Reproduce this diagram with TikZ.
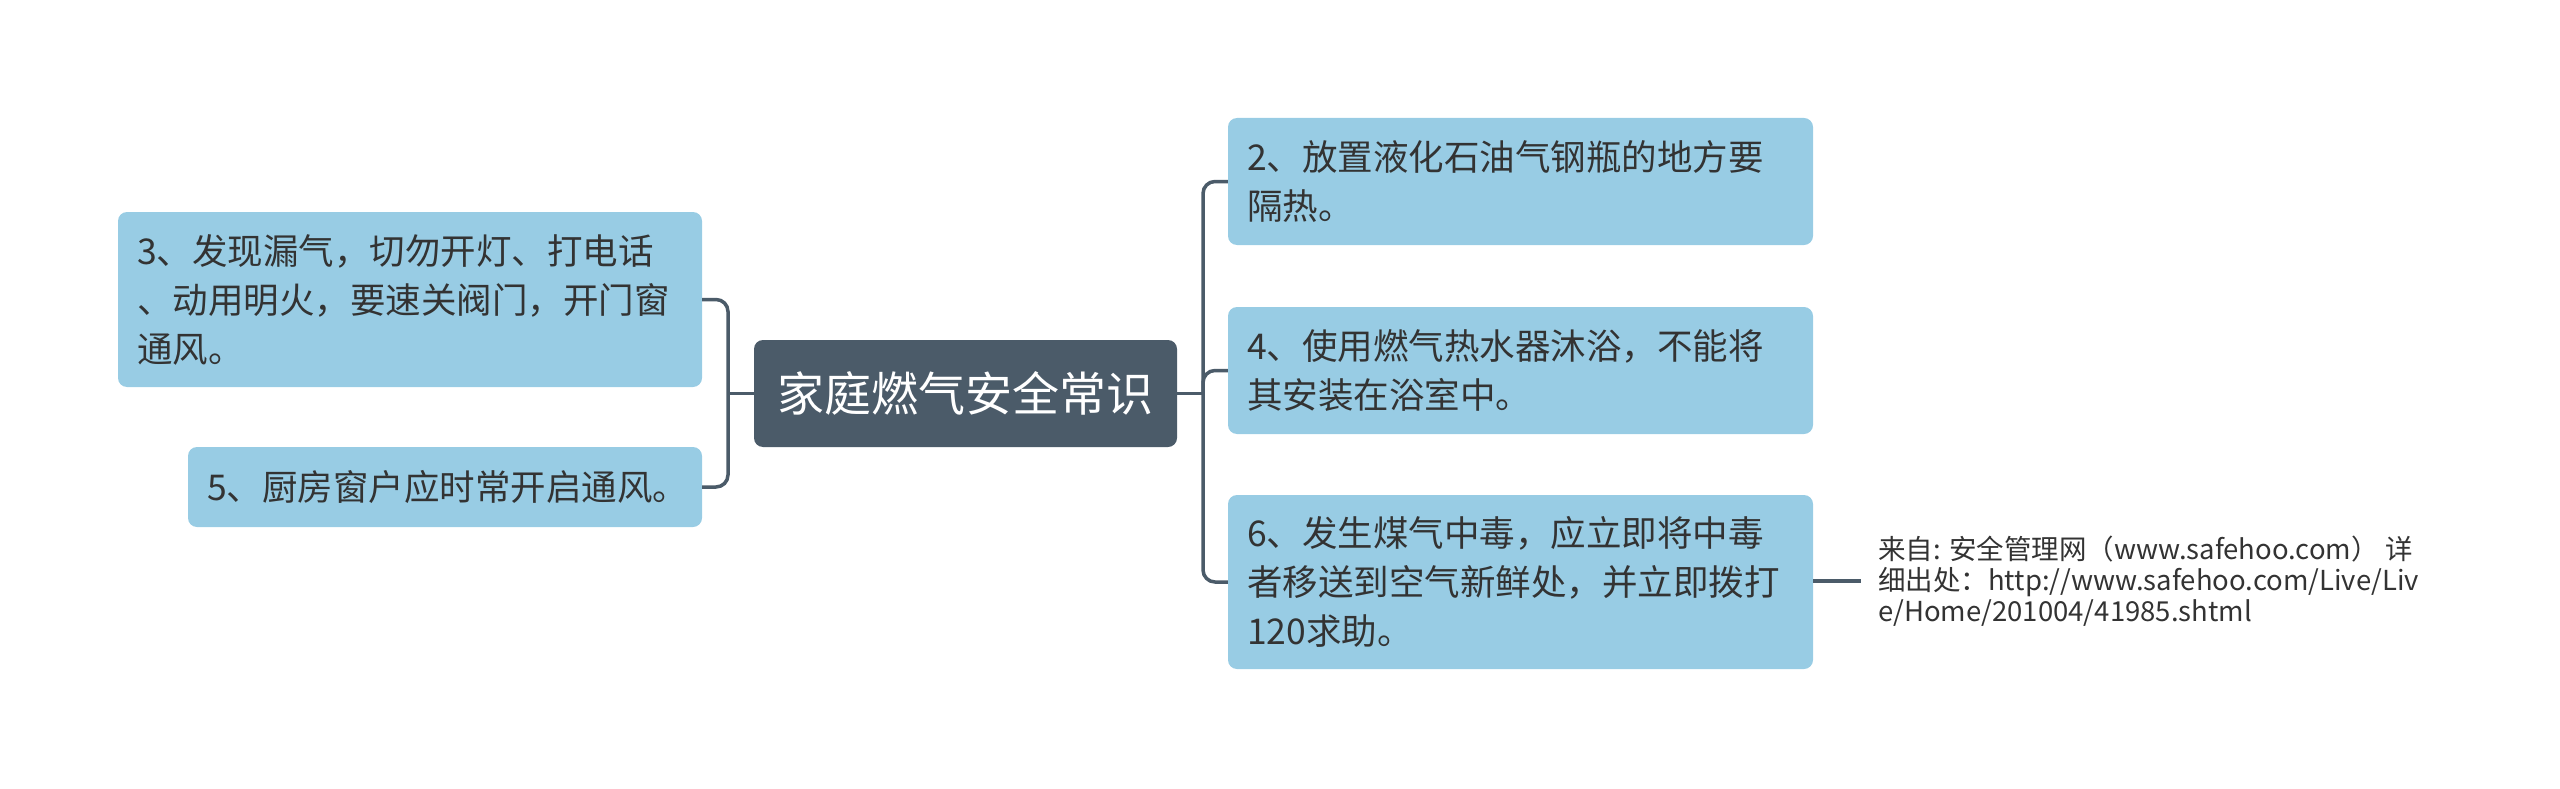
\documentclass[tikz,border=0pt]{standalone}
\usepackage{fontspec}
\setmainfont{Noto Sans CJK SC}
\definecolor{leaf}{HTML}{98CCE4}
\definecolor{hub}{HTML}{4B5B69}
\definecolor{ink}{HTML}{333333}
\tikzset{
  leafbox/.style={fill=leaf, rounded corners=9pt, inner xsep=19pt, inner ysep=0pt, align=left, text=ink, font=\fontsize{35.5}{49}\selectfont, anchor=center},
  hubbox/.style={fill=hub, rounded corners=9pt, text=white, font=\fontsize{47}{55}\selectfont, minimum width=423pt, minimum height=107pt, anchor=center},
  conn/.style={draw=hub, line width=3.5pt, rounded corners=12pt},
  srcnote/.style={align=left, text=ink, font=\fontsize{27.5}{31}\selectfont, inner sep=0pt, anchor=west}
}
\begin{document}
\begin{tikzpicture}[x=1pt,y=-1pt]
\useasboundingbox (0,0) rectangle (2560,789);
\node[hubbox] (c) at (965.5,393.5) {家庭燃气安全常识};
\node[leafbox, text width=546pt, minimum height=175pt] (n3) at (410,299.5) {3、发现漏气，切勿开灯、打电话\\、动用明火，要速关阀门，开门窗\\通风。};
\node[leafbox, text width=476pt, minimum height=80pt] (n5) at (445,487) {5、厨房窗户应时常开启通风。};
\node[leafbox, text width=547pt, minimum height=127pt] (n2) at (1520.5,181.5) {2、放置液化石油气钢瓶的地方要\\隔热。};
\node[leafbox, text width=547pt, minimum height=127pt] (n4) at (1520.5,370.5) {4、使用燃气热水器沐浴，不能将\\其安装在浴室中。};
\node[leafbox, text width=547pt, minimum height=174pt] (n6) at (1520.5,582) {6、发生煤气中毒，应立即将中毒\\者移送到空气新鲜处，并立即拨打\\120求助。};
\node[srcnote] (src) at (1878,581) {来自: 安全管理网（www.safehoo.com） 详\\细出处：http://www.safehoo.com/Live/Liv\\e/Home/201004/41985.shtml};
\coordinate (lt) at (728,393.5);
\coordinate (rt) at (1203,393.5);
\coordinate (se) at (1861,581);
\draw[conn] (c.west) -- (lt);
\draw[conn] (n3.east) -| (lt) |- (n5.east);
\draw[conn] (c.east) -- (rt);
\draw[conn] (n2.west) -| (rt) |- (n6.west);
\draw[conn] (rt) |- (n4.west);
\draw[conn] (n6.east |- se) -- (se);
\end{tikzpicture}
\end{document}
